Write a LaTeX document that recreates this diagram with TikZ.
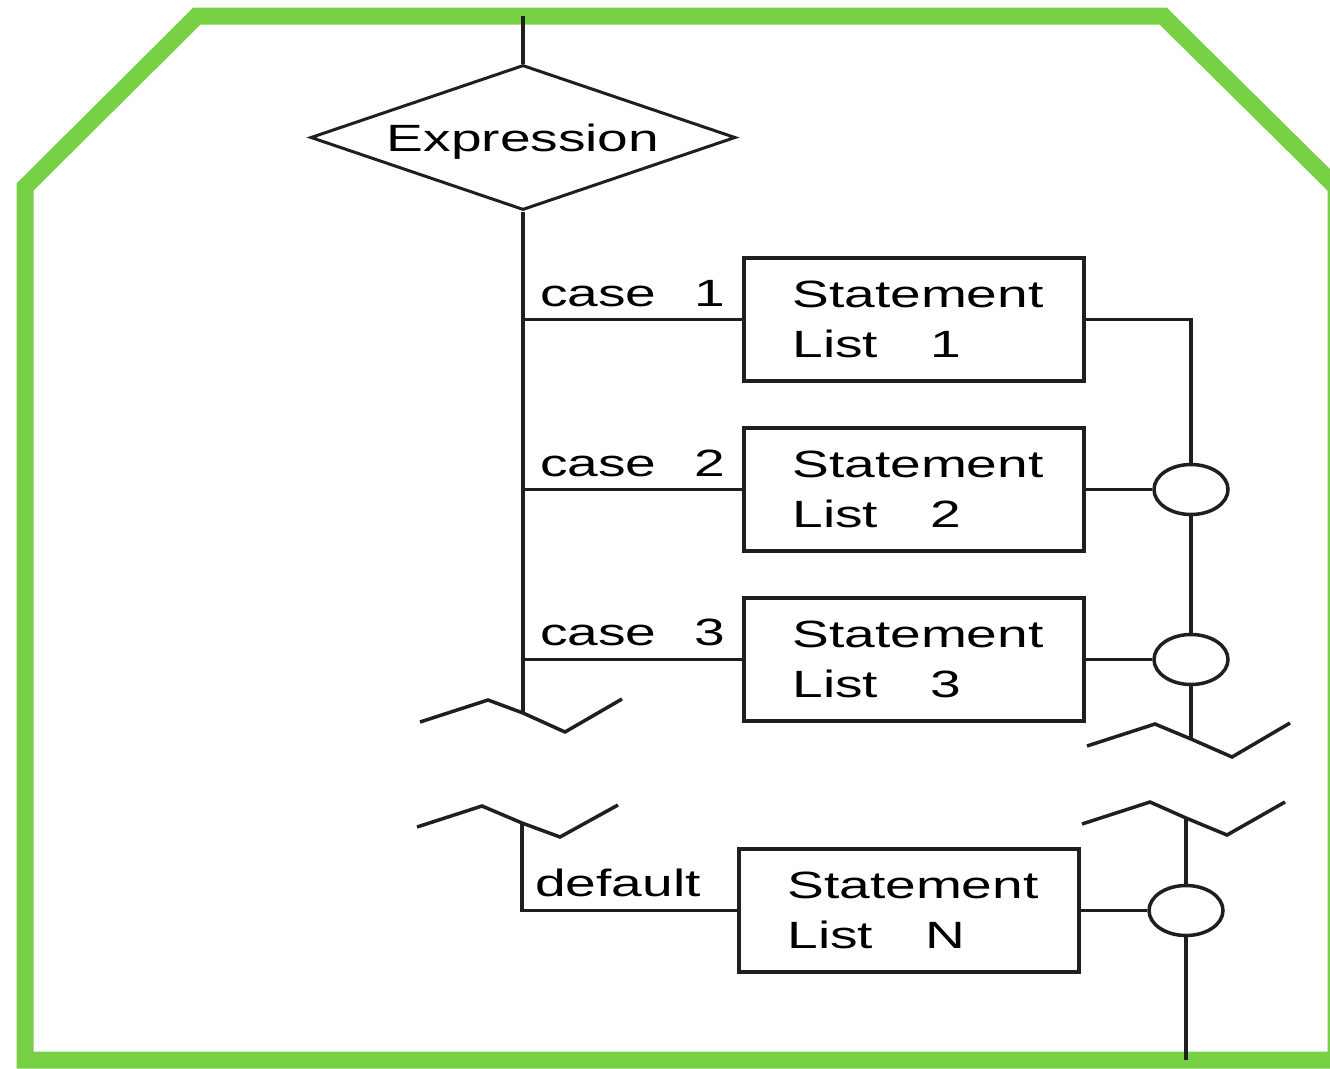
\documentclass[tikz,border=0pt]{standalone}
\usepackage{fontspec}
\setmainfont{Liberation Sans}
\usepackage{graphicx}
\usetikzlibrary{shapes.geometric}
\definecolor{framegreen}{RGB}{120,208,68}
\newcommand{\widetxt}[1]{\scalebox{1.45}[1]{#1}}
\begin{document}
\begin{tikzpicture}[x=1pt,y=-1pt,
  line/.style={line width=3.5pt, draw=black!88},
  stmtbox/.style={draw=black!88, line width=3.5pt, rectangle, minimum width=340pt, minimum height=123pt, inner sep=0pt, align=left, font=\fontsize{38}{50}\selectfont},
  joint/.style={draw=black!88, line width=3.5pt, ellipse, minimum width=74pt, minimum height=50pt, inner sep=0pt},
  lbl/.style={anchor=base west, inner sep=0pt, font=\fontsize{38}{46}\selectfont},
  brkline/.style={line width=3.5pt, draw=black!88, line join=miter}
]
\useasboundingbox (0,0) rectangle (1330,1068);
\fill[white] (0,0) rectangle (1330,1068);
% frame
\begin{scope}
\clip (0,0) rectangle (1330,1068);
\draw[framegreen, line width=17pt, line join=miter] (25,1060) -- (25,187) -- (197,16) -- (1163,16) -- (1336,187) -- (1336,1060) -- cycle;
\end{scope}

% nodes
\node[draw=black!88, line width=3pt, diamond, aspect=2.93, minimum width=425pt, minimum height=145pt, inner sep=0pt, text depth=0pt, font=\fontsize{38}{46}\selectfont] (expr) at (523,137.5) {\widetxt{Expression}};

\node[stmtbox] (box1) at (914,319.5) {\hspace{8pt}\widetxt{Statement}\\\hspace{8pt}\widetxt{List\hspace{36pt}1}};
\node[stmtbox] (box2) at (914,489.5) {\hspace{8pt}\widetxt{Statement}\\\hspace{8pt}\widetxt{List\hspace{36pt}2}};
\node[stmtbox] (box3) at (914,659.5) {\hspace{8pt}\widetxt{Statement}\\\hspace{8pt}\widetxt{List\hspace{36pt}3}};
\node[stmtbox] (boxN) at (909,910.5) {\hspace{8pt}\widetxt{Statement}\\\hspace{8pt}\widetxt{List\hspace{36pt}N}};

\node[joint] (c2) at (1191,489.5) {};
\node[joint] (c3) at (1191,659.5) {};
\node[joint] (cN) at (1186,910.5) {};

\node[lbl] (l1) at (540,306) {\widetxt{case\hspace{26pt}1}};
\node[lbl] (l2) at (540,476) {\widetxt{case\hspace{26pt}2}};
\node[lbl] (l3) at (540,645) {\widetxt{case\hspace{26pt}3}};
\node[lbl] (ld) at (535,896) {\widetxt{default}};

% coordinates
\coordinate (topin) at (523,16);
\coordinate (brk1) at (523,713);
\coordinate (brk2) at (522,823);
\coordinate (brk3) at (1191,739);
\coordinate (brk4) at (1186,818);
\coordinate (botin) at (1186,1060);

% left trunk
\draw[line] (topin) -- (expr.north);
\draw[line] (expr.south) -- (brk1);
\draw[line] (expr.south |- box1.west) -- (box1.west);
\draw[line] (expr.south |- box2.west) -- (box2.west);
\draw[line] (expr.south |- box3.west) -- (box3.west);
\draw[line] (brk2) |- (boxN.west);

% right side
\draw[line] (box1.east) -| (c2.north);
\draw[line] (box2.east) -- (c2.west);
\draw[line] (c2.south) -- (c3.north);
\draw[line] (box3.east) -- (c3.west);
\draw[line] (c3.south) -- (brk3);
\draw[line] (brk4) -- (cN.north);
\draw[line] (boxN.east) -- (cN.west);
\draw[line] (cN.south) -- (botin);

% break marks
\draw[brkline] (420,722) -- (488,700) -- (brk1) -- (565,732) -- (622,699);
\draw[brkline] (417,827) -- (482,806) -- (brk2) -- (560,837) -- (618,805);
\draw[brkline] (1087,746) -- (1155,724) -- (brk3) -- (1232,757) -- (1290,723);
\draw[brkline] (1082,824) -- (1150,802) -- (brk4) -- (1227,835) -- (1285,802);
\end{tikzpicture}
\end{document}
